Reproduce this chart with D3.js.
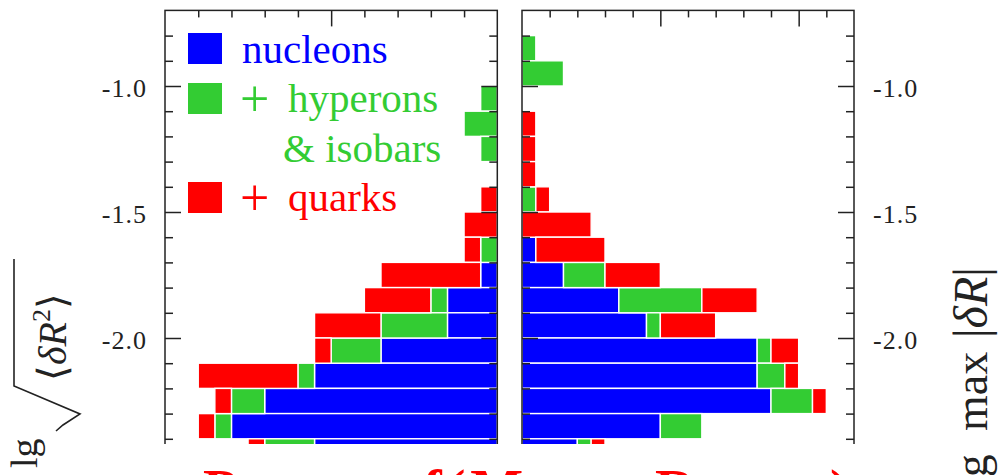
<!DOCTYPE html>
<html>
<head>
<meta charset="utf-8">
<script src="https://cdn.jsdelivr.net/npm/d3@7"></script>
<style>
body { margin: 0; background: #fff; }
text { font-family: "Liberation Serif", "Times New Roman", serif; }
</style>
</head>
<body>
<svg width="999" height="475"></svg>
<script>
// upper edge of each 0.1 wide bin (lg units), top to bottom
var binTop = [-0.7, -0.8, -0.9, -1.0, -1.1, -1.2, -1.3, -1.4, -1.5, -1.6, -1.7, -1.8, -1.9, -2.0, -2.1, -2.2, -2.3, -2.4];
var binWidth = 0.1;

// left panel: lg sqrt<dR^2>
var leftNucleons = [0, 0, 0, 0, 0, 0, 0, 0, 0, 0, 1, 3, 3, 7, 11, 14, 16, 11];
var leftHyperons = [0, 0, 0, 1, 2, 1, 0, 0, 0, 1, 0, 1, 4, 3, 1, 2, 1, 3];
var leftQuarks   = [0, 0, 0, 0, 0, 0, 0, 1, 2, 1, 6, 4, 4, 1, 6, 1, 1, 1];

// right panel: lg max|dR|
var rightNucleons = [0, 0, 0, 0, 0, 0, 0, 0, 0, 1, 3, 7, 9, 17, 17, 18, 10, 4];
var rightHyperons = [0, 1, 3, 0, 0, 0, 0, 1, 0, 0, 3, 6, 1, 1, 2, 3, 3, 1];
var rightQuarks   = [0, 0, 0, 0, 1, 1, 1, 1, 5, 5, 4, 4, 4, 2, 1, 1, 0, 1];

var yMajor = [-1.0, -1.5, -2.0];
var yTickLabels = ["-1.0", "-1.5", "-2.0"];
var yMinor = [-0.8, -0.9, -1.1, -1.2, -1.3, -1.4, -1.6, -1.7, -1.8, -1.9, -2.1, -2.2, -2.3, -2.4, -2.6];
var xMinor = [2, 4, 6, 8, 12, 14, 16, 18, 22];
var xMajor = [10, 20];

var keys = ["nuc", "hyp", "qrk"];
var colors = {nuc: "#0000ff", hyp: "#33cc33", qrk: "#ff0000"};

var svg = d3.select("svg");
var ink = "#222";
var cutY = 444; // picture is cropped here

// scales
var y = d3.scaleLinear().domain([-0.7, -2.7]).range([10.4, 514.4]);
var xL = d3.scaleLinear().domain([0, 20]).range([497.3, 165]);
var xR = d3.scaleLinear().domain([0, 24]).range([522, 854]);

svg.append("defs").append("clipPath")
    .attr("id", "clip")
    .append("rect")
    .attr("x", 0).attr("y", 0)
    .attr("width", 999).attr("height", cutY);

function rows(nuc, hyp, qrk) {
    return binTop.map(function (t, i) {
        return {top: t, nuc: nuc[i], hyp: hyp[i], qrk: qrk[i]};
    });
}

var stack = d3.stack().keys(keys);

function drawPanel(data, xs, x0, x1) {
    var g = svg.append("g").attr("clip-path", "url(#clip)");
    var series = stack(data);

    g.selectAll("g.series")
        .data(series)
        .enter()
        .append("g")
        .attr("fill", function (d) { return colors[d.key]; })
        .selectAll("rect")
        .data(function (d) { return d.filter(function (p) { return p[1] > p[0]; }); })
        .enter()
        .append("rect")
        .attr("x", function (d) { return Math.min(xs(d[0]), xs(d[1])); })
        .attr("width", function (d) { return Math.abs(xs(d[1]) - xs(d[0])); })
        .attr("y", function (d) { return y(d.data.top); })
        .attr("height", function (d) { return y(d.data.top - binWidth) - y(d.data.top); })
        .attr("stroke", "#fff")
        .attr("stroke-width", 1.4);

    // ticks on all sides, pointing inwards
    function ticks(axis, tr) {
        var a = g.append("g").attr("transform", tr).call(axis);
        a.select(".domain").remove();
        a.selectAll("line").attr("stroke", ink).attr("stroke-width", 1.5);
    }
    ticks(d3.axisRight(y).tickValues(yMinor).tickSize(8).tickFormat(""), "translate(" + x0 + ",0)");
    ticks(d3.axisRight(y).tickValues(yMajor).tickSize(16).tickFormat(""), "translate(" + x0 + ",0)");
    ticks(d3.axisLeft(y).tickValues(yMinor).tickSize(8).tickFormat(""), "translate(" + x1 + ",0)");
    ticks(d3.axisLeft(y).tickValues(yMajor).tickSize(16).tickFormat(""), "translate(" + x1 + ",0)");
    var topMinor = xMinor.filter(function (v) { return v < xs.domain()[1]; });
    var topMajor = xMajor.filter(function (v) { return v < xs.domain()[1]; });
    ticks(d3.axisBottom(xs).tickValues(topMinor).tickSize(7).tickFormat(""), "translate(0," + y(-0.7) + ")");
    ticks(d3.axisBottom(xs).tickValues(topMajor).tickSize(16).tickFormat(""), "translate(0," + y(-0.7) + ")");

    g.append("rect")
        .attr("x", x0).attr("y", y(-0.7))
        .attr("width", x1 - x0).attr("height", 600)
        .attr("fill", "none")
        .attr("stroke", ink)
        .attr("stroke-width", 1.5);
}

drawPanel(rows(leftNucleons, leftHyperons, leftQuarks), xL, 165, 497.3);
drawPanel(rows(rightNucleons, rightHyperons, rightQuarks), xR, 522, 854);

// y tick labels on both outer sides
function tickLabels(axis, tr, anchor) {
    var a = svg.append("g").attr("transform", tr).call(axis);
    a.select(".domain").remove();
    a.selectAll("line").remove();
    a.selectAll("text")
        .attr("dy", "0.42em")
        .attr("fill", ink)
        .style("font-family", "'Liberation Serif', serif")
        .style("font-size", "26px")
        .style("letter-spacing", "1px")
        .attr("text-anchor", anchor);
}
tickLabels(d3.axisLeft(y).tickValues(yMajor).tickSize(0).tickPadding(0)
    .tickFormat(function (d, i) { return yTickLabels[i]; }), "translate(147,0)", "end");
tickLabels(d3.axisRight(y).tickValues(yMajor).tickSize(0).tickPadding(0)
    .tickFormat(function (d, i) { return yTickLabels[i]; }), "translate(873,0)", "start");

// legend
var legendKeys = ["nuc", "hyp", "qrk"];
var legendY = [33, 83, 182];
var leg = svg.append("g");
leg.selectAll("rect")
    .data(legendKeys)
    .enter()
    .append("rect")
    .attr("x", 188)
    .attr("y", function (d, i) { return legendY[i]; })
    .attr("width", 34)
    .attr("height", 31)
    .attr("fill", function (d) { return colors[d]; });

function legText(str, x, yy, color, size) {
    leg.append("text")
        .attr("x", x).attr("y", yy)
        .attr("fill", color)
        .style("font-size", (size || 41) + "px")
        .text(str);
}
legText("nucleons", 242, 63, colors.nuc);
legText("+", 240, 116, colors.hyp, 52);
legText("hyperons", 288, 112, colors.hyp);
legText("& isobars", 283, 162, colors.hyp);
legText("+", 240, 215, colors.qrk, 52);
legText("quarks", 288, 211, colors.qrk);

// left axis label: lg sqrt<dR^2>
svg.append("text")
    .attr("transform", "translate(37,468) rotate(-90)")
    .attr("fill", ink)
    .style("font-size", "38px")
    .text("lg");
svg.append("path")
    .attr("d", "M56,431 L63,425 L80,414 L14,386 L14,259")
    .attr("fill", "none")
    .attr("stroke", ink)
    .attr("stroke-width", 1.6);
var rad = svg.append("text")
    .attr("transform", "translate(66,381) rotate(-90)")
    .attr("fill", ink)
    .style("font-size", "40px");
rad.append("tspan").text("\u27E8");
rad.append("tspan").style("font-style", "italic").text("δR");
rad.append("tspan").attr("dy", -16).style("font-size", "26px").text("2");
rad.append("tspan").attr("dy", 16).text("\u27E9");

// right axis label: lg max|dR|
svg.append("text")
    .attr("transform", "translate(987,490) rotate(-90)")
    .attr("fill", ink)
    .style("font-size", "46px")
    .text("lg");
svg.append("text")
    .attr("transform", "translate(987,431) rotate(-90)")
    .attr("fill", ink)
    .style("font-size", "46px")
    .text("max");
var mx = svg.append("text")
    .attr("transform", "translate(987,338) rotate(-90)")
    .attr("fill", ink)
    .style("font-size", "48px");
mx.append("tspan").text("|");
mx.append("tspan").style("font-style", "italic").text("δR");
mx.append("tspan").text("|");

// slide title, mostly below the crop
var title = svg.append("g")
    .attr("fill", "#ff0000")
    .style("font-size", "56px")
    .style("font-weight", "bold");
title.append("text").attr("x", 203).attr("y", 509).text("Pressure");
title.append("text").attr("x", 423).attr("y", 509).style("letter-spacing", "5px").text("f(Mass,");
title.append("text").attr("x", 655).attr("y", 509).style("letter-spacing", "8px").text("Rmax)");
</script>
</body>
</html>
